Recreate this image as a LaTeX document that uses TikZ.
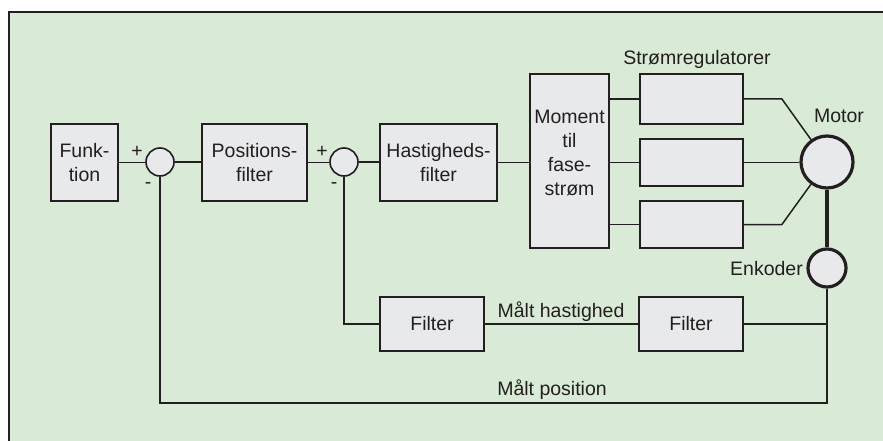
\documentclass[tikz,border=0pt]{standalone}
\usepackage{fontspec}
\setmainfont{Liberation Sans}
\definecolor{bg}{HTML}{D9EBD6}
\definecolor{boxfill}{HTML}{E8E9EB}
\definecolor{ink}{HTML}{231F20}
\begin{document}
\begin{tikzpicture}[x=1pt,y=-1pt,
  txt/.style={font=\fontsize{19.5}{23.7}\selectfont, text=ink, inner sep=0pt, align=center},
  blk/.style={draw=ink, line width=1.8pt, fill=boxfill, inner sep=0pt, align=center,
              font=\fontsize{19.5}{23.7}\selectfont, text=ink},
  sumc/.style={circle, draw=ink, line width=1.6pt, fill=boxfill, minimum size=28pt, inner sep=0pt},
  bigc/.style={circle, draw=ink, line width=3.2pt, fill=boxfill, inner sep=0pt},
  conn/.style={draw=ink, line width=1.5pt},
  heavy/.style={draw=ink, line width=3.2pt}]
\useasboundingbox (0,0) rectangle (883,441);
\fill[white] (0,0) rectangle (883,441);
\fill[bg] (9,12) rectangle (883,441);
\draw[ink, line width=2pt] (9,441) -- (9,12) -- (883,12);

% blocks
\node[blk, minimum width=67pt, minimum height=77pt] (funk) at (84.5,162.5) {Funk-\\tion};
\node[sumc] (sum1) at (160,162) {};
\node[blk, minimum width=105pt, minimum height=77pt] (pos) at (254.5,162.5) {Positions-\\filter};
\node[sumc] (sum2) at (344,162) {};
\node[blk, minimum width=117pt, minimum height=77pt] (hast) at (438.5,162.5) {Hastigheds-\\filter};
\node[blk, minimum width=79pt, minimum height=174pt] (mom) at (569.5,161) {};
\node[txt] (momtxt) at (569.5,153) {Moment\\til\\fase-\\strøm};
\node[blk, minimum width=103pt, minimum height=50pt] (s1) at (691.5,99) {};
\node[blk, minimum width=103pt, minimum height=47pt] (s2) at (691.5,162.5) {};
\node[blk, minimum width=103pt, minimum height=47pt] (s3) at (691.5,224.5) {};
\node[bigc, minimum size=52pt] (motor) at (827,162) {};
\node[bigc, minimum size=38pt] (enc) at (827,268) {};
\node[blk, minimum width=104pt, minimum height=54pt] (f1) at (432,324) {Filter};
\node[blk, minimum width=104pt, minimum height=54pt] (f2) at (691,324) {Filter};

% labels
\node[txt] (p1) at (137,152) {+};
\node[txt] (m1) at (148,186) {-};
\node[txt] (p2) at (322,152) {+};
\node[txt] (m2) at (334,186) {-};
\node[txt, anchor=base] (lstrom) at (697,65) {Strømregulatorer};
\node[txt, anchor=base] (lmotor) at (839,123) {Motor};
\node[txt, anchor=base east] (lenc) at (803,275) {Enkoder};
\node[txt, anchor=base] (lhast) at (561,317) {Målt hastighed};
\node[txt, anchor=base] (lpos) at (552,395) {Målt position};

% forward path
\draw[conn] (funk.east) -- (funk.east -| sum1.west);
\draw[conn] (sum1.east) -- (sum1.east -| pos.west);
\draw[conn] (pos.east) -- (pos.east -| sum2.west);
\draw[conn] (sum2.east) -- (sum2.east -| hast.west);
\draw[conn] (hast.east) -- (hast.east -| mom.west);
\draw[conn] (mom.east |- s1.west) -- (s1.west);
\draw[conn] (mom.east |- s2.west) -- (s2.west);
\draw[conn] (mom.east |- s3.west) -- (s3.west);
\draw[conn] (s1.east) -- ++(38,0) coordinate (k1) -- (motor);
\draw[conn] (s2.east) -- (s2.east -| motor.west);
\draw[conn] (s3.east) -- ++(38,0) coordinate (k3) -- (motor);
\draw[heavy] (motor.south) -- (enc.north);

% feedback
\coordinate (bc) at (827,403);
\draw[conn] (enc.south) -- (bc) -- (bc -| sum1.south) -- (sum1.south);
\draw[conn] (f2.east) -- (f2.east -| enc.south);
\draw[conn] (sum2.south) -- (sum2.south |- f1.west) -- (f1.west);
\draw[conn] (f1.east) -- (f2.west);
\end{tikzpicture}
\end{document}
